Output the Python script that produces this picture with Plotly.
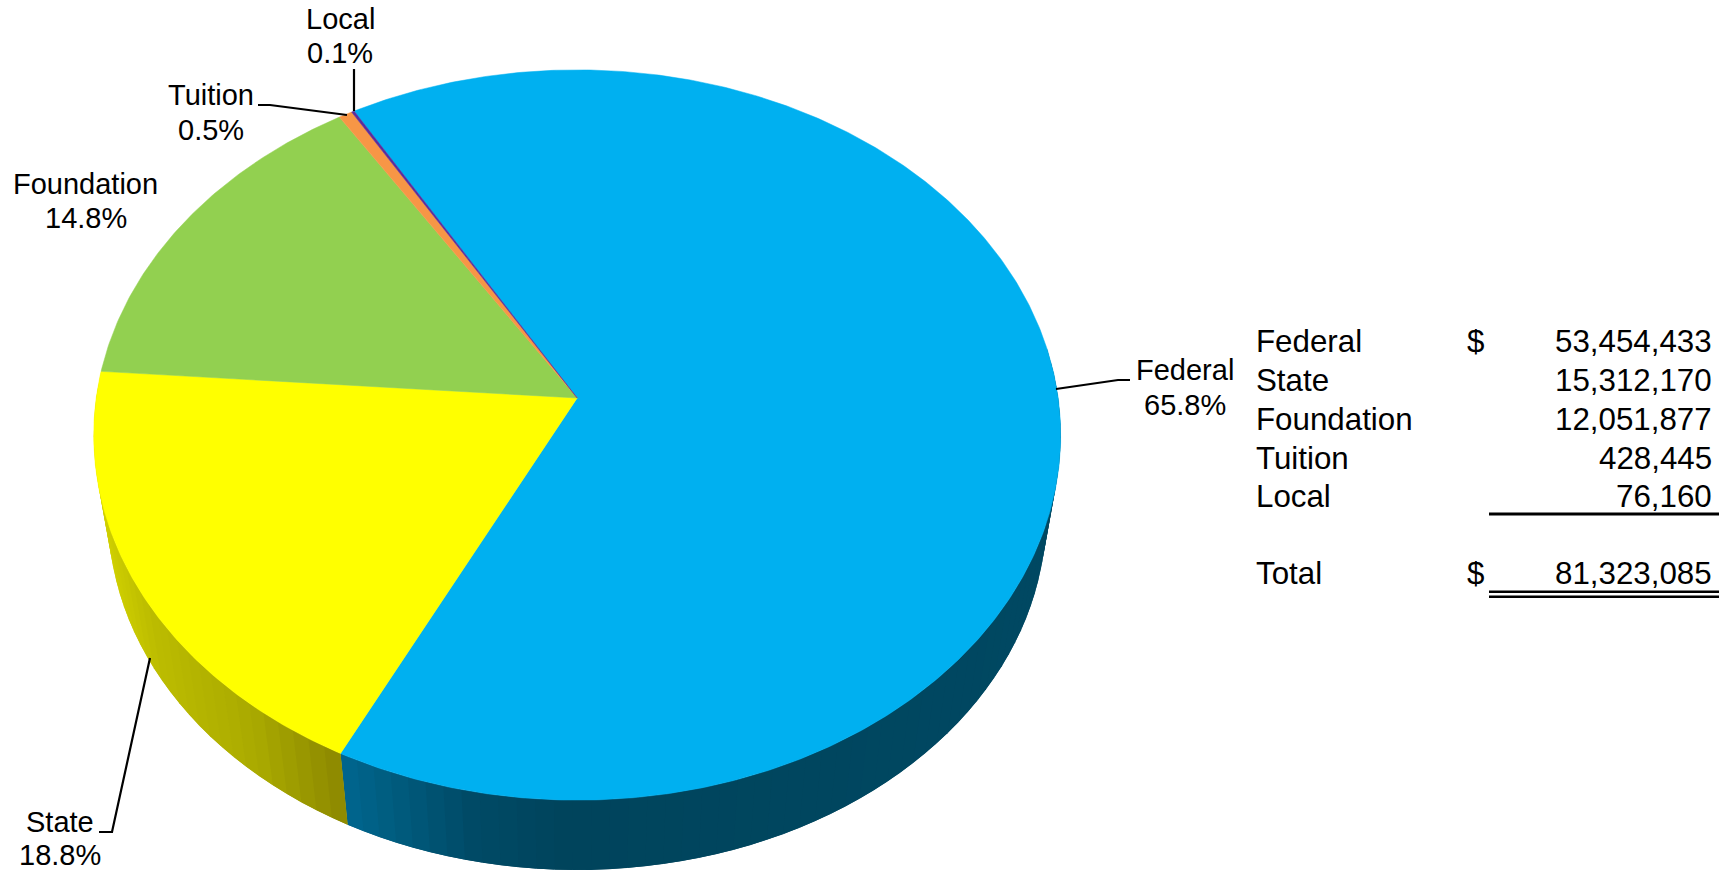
import math
import plotly.graph_objects as go

# Funding sources, in drawing order clockwise from the first slice
categories = ["Federal", "State", "Foundation", "Tuition", "Local"]
shares = [65.8, 18.8, 14.8, 0.5, 0.1]
amounts = [53454433, 15312170, 12051877, 428445, 76160]
total_amount = 81323085
slice_colors = ["#00B0F0", "#FFFF00", "#92D050", "#F79646", "#5A2D9C"]

# Disc geometry, in pixels of the page
CX, CY = 577.2, 398.0
RX, RY = 481.0, 361.4
TILT = 0.1014
START_DEG = 329.7
DEPTH_Y = 82.0
DEPTH_SCALE = 0.97

FONT = "Liberation Sans"


def project(deg, lower=False):
    """Perspective view of a point on the rim of the disc (degrees clockwise from top)."""
    a = math.radians(deg)
    x, y = math.sin(a), -math.cos(a)
    w = 1 - TILT * y
    sx, sy = RX * x / w, RY * y / w
    if lower:
        return CX + DEPTH_SCALE * sx, CY + DEPTH_Y + DEPTH_SCALE * sy
    return CX + sx, CY + sy


def blend(stops, x):
    """Piecewise colour ramp along the page x position."""
    if x <= stops[0][0]:
        return stops[0][1]
    for (x0, c0), (x1, c1) in zip(stops, stops[1:]):
        if x <= x1:
            t = (x - x0) / (x1 - x0)
            return tuple(c0[i] + t * (c1[i] - c0[i]) for i in range(3))
    return stops[-1][1]


wall_ramps = {
    "Federal": [(341, (0, 102, 142)), (400, (0, 90, 124)), (470, (0, 74, 102)),
                (560, (0, 68, 92)), (1050, (0, 72, 98))],
    "State": [(100, (208, 208, 0)), (150, (188, 188, 0)), (250, (170, 170, 0)),
              (341, (140, 136, 0))],
}

fig = go.Figure()

# Slice boundaries from the shares
spans = []
angle = START_DEG
scale = 360.0 / sum(shares)
for share in shares:
    spans.append((angle, angle + share * scale))
    angle += share * scale

# Side wall, built from narrow strips so the shading can vary along the rim.
# Each strip runs on under the next one so no seams show between them.
for name, (a0, a1) in zip(categories, spans):
    if name not in wall_ramps:
        continue
    steps = max(2, int((a1 - a0) / 2.0))
    if name == "Federal":
        order = range(steps)
    else:
        order = range(steps - 1, -1, -1)
    for i in order:
        t0 = a0 + (a1 - a0) * i / steps
        t1 = a0 + (a1 - a0) * (i + 1) / steps
        # the far part of the rim sits behind the top face
        if math.cos(math.radians((t0 + t1) / 2)) > 0.15:
            continue
        if name == "Federal":
            end0, end1 = t0, min(a1, t1 + (a1 - a0) / steps)
        else:
            end0, end1 = max(a0, t0 - (a1 - a0) / steps), t1
        p = [project(end0), project(end1), project(end1, True), project(end0, True)]
        mx = (project(t0)[0] + project(t1)[0]) / 2
        r, g, b = blend(wall_ramps[name], mx)
        col = f"rgb({r:.0f},{g:.0f},{b:.0f})"
        fig.add_trace(go.Scatter(
            x=[q[0] for q in p] + [p[0][0]],
            y=[q[1] for q in p] + [p[0][1]],
            mode="lines", fill="toself", fillcolor=col,
            line=dict(width=0), hoverinfo="skip", showlegend=False,
        ))

# Top face
for name, color, (a0, a1) in zip(categories, slice_colors, spans):
    steps = max(2, int((a1 - a0) / 0.5))
    rim = [project(a0 + (a1 - a0) * i / steps) for i in range(steps + 1)]
    xs = [CX] + [q[0] for q in rim] + [CX]
    ys = [CY] + [q[1] for q in rim] + [CY]
    fig.add_trace(go.Scatter(
        x=xs, y=ys, mode="lines", fill="toself", fillcolor=color,
        line=dict(color=color, width=0.5), name=name, hoverinfo="name", showlegend=False,
    ))

# Leader lines from the labels to the slices
leaders = {
    "Federal": ([1056, 1118, 1130], [389, 380, 380]),
    "State": ([150, 112, 99], [658, 832, 832]),
    "Tuition": ([258, 270, 347], [105, 105, 115]),
    "Local": ([354, 354], [69, 111]),
}
for xs, ys in leaders.values():
    fig.add_trace(go.Scatter(x=xs, y=ys, mode="lines", line=dict(color="black", width=2.2),
                             hoverinfo="skip", showlegend=False))

# Rules under the amounts column
for y, w in [(514, 3), (591.7, 2.6), (596.7, 2.6)]:
    fig.add_trace(go.Scatter(x=[1489, 1719], y=[y, y], mode="lines",
                             line=dict(color="black", width=w),
                             hoverinfo="skip", showlegend=False))


def add_text(x, y, text, size, anchor="center"):
    fig.add_annotation(x=x, y=y, text=text, showarrow=False, xanchor=anchor, yanchor="middle",
                       borderpad=0, font=dict(family=FONT, size=size, color="black"))


# Slice labels
label_spots = {
    "Federal": (1185, 370, 405),
    "State": (60, 822, 855),
    "Foundation": (85.5, 184, 218),
    "Tuition": (210.5, 95, 130),
    "Local": (340, 19, 53),
}
for name, share in zip(categories, shares):
    x, y0, y1 = label_spots[name]
    add_text(x, y0, name, 29)
    add_text(x, y1, f"{share:.1f}%", 29)

# Amounts table
row_y = [341, 380, 419, 458, 496]
for name, amount, y in zip(categories, amounts, row_y):
    add_text(1255, y, name, 31.3, "left")
    add_text(1713, y, f"{amount:,}", 31.3, "right")
add_text(1475, row_y[0], "$", 31.3)
add_text(1255, 573, "Total", 31.3, "left")
add_text(1475, 573, "$", 31.3)
add_text(1713, 573, f"{total_amount:,}", 31.3, "right")

fig.update_layout(
    width=1733, height=871, autosize=False,
    margin=dict(l=0, r=0, t=0, b=0),
    paper_bgcolor="white", plot_bgcolor="white",
    xaxis=dict(range=[0, 1733], visible=False, fixedrange=True),
    yaxis=dict(range=[871, 0], visible=False, fixedrange=True),
    hovermode="closest",
)
fig.write_html("out.html", config={"displayModeBar": False})
